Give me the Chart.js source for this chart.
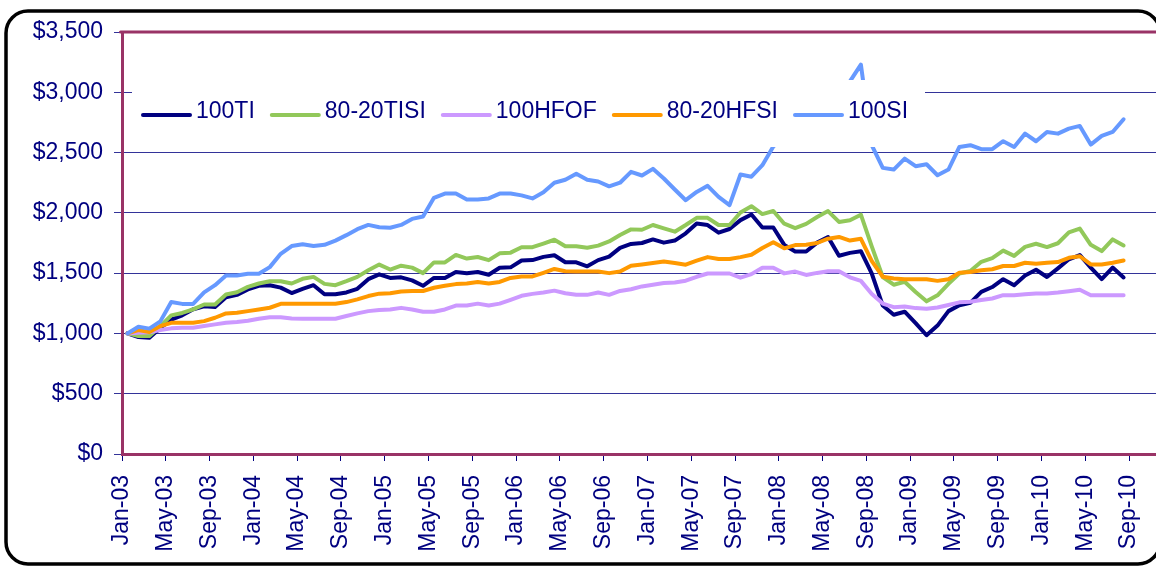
<!DOCTYPE html>
<html>
<head>
<meta charset="utf-8">
<script src="https://cdn.jsdelivr.net/npm/chart.js@4.4.0/dist/chart.umd.min.js"></script>
<style>
html, body { margin: 0; padding: 0; background: #fff; overflow: hidden; }
#wrap { width: 1156px; height: 567px; position: relative; }
</style>
</head>
<body>
<div id="wrap"><canvas id="canvas"></canvas></div>
<script>
// tick labels, one every 4 months (Jan-03 .. Sep-10)
var tickLabels = ['Jan-03','May-03','Sep-03','Jan-04','May-04','Sep-04','Jan-05','May-05','Sep-05',
  'Jan-06','May-06','Sep-06','Jan-07','May-07','Sep-07','Jan-08','May-08','Sep-08',
  'Jan-09','May-09','Sep-09','Jan-10','May-10','Sep-10']

var seriesNames = ['100TI', '80-20TISI', '100HFOF', '80-20HFSI', '100SI']
var seriesColors = ['#000080', '#92c85a', '#cc99ff', '#ff9900', '#6699ff']

// monthly values, Jan-03 .. Aug-10
var ti100 = [1000,970,965,1045,1115,1150,1200,1225,1220,1300,1320,1365,1395,1400,1380,1335,1370,1400,1325,1325,
  1340,1370,1450,1490,1460,1465,1440,1395,1460,1460,1510,1500,1510,1487,1545,1548,1605,1608,1635,1648,
  1590,1590,1557,1608,1637,1710,1742,1750,1780,1753,1770,1830,1912,1899,1836,1866,1940,1986,1879,1879,
  1734,1680,1680,1753,1800,1644,1668,1682,1495,1231,1155,1180,1085,985,1065,1185,1233,1254,1345,1385,
  1450,1400,1480,1528,1468,1540,1615,1650,1546,1450,1546,1464]
var tisi8020 = [1000,978,978,1060,1150,1170,1200,1240,1240,1323,1342,1386,1414,1433,1433,1414,1453,1469,1411,1400,
  1433,1469,1524,1571,1530,1562,1546,1500,1589,1589,1651,1621,1634,1608,1664,1670,1715,1715,1745,1777,
  1723,1723,1710,1728,1763,1817,1863,1860,1899,1871,1844,1899,1959,1959,1899,1899,2003,2055,1990,2015,
  1910,1873,1909,1966,2015,1925,1939,1985,1720,1468,1404,1429,1344,1266,1316,1412,1497,1518,1594,1624,
  1687,1643,1718,1744,1716,1748,1838,1870,1735,1683,1780,1730]
var hfof100 = [1000,1005,1010,1028,1042,1047,1047,1061,1075,1088,1094,1105,1122,1135,1135,1124,1122,1122,1122,1122,
  1144,1166,1185,1195,1199,1212,1199,1180,1180,1199,1231,1231,1247,1231,1247,1279,1312,1328,1339,1355,
  1333,1320,1320,1339,1320,1352,1366,1390,1404,1418,1423,1437,1470,1497,1497,1497,1462,1492,1545,1545,
  1498,1513,1485,1502,1516,1516,1465,1436,1327,1248,1218,1223,1210,1204,1215,1236,1258,1263,1277,1290,
  1317,1317,1325,1331,1331,1339,1350,1363,1317,1317,1317,1317]
var hfsi8020 = [1000,1028,1011,1061,1088,1088,1088,1102,1130,1166,1171,1185,1199,1213,1246,1246,1246,1246,1246,1246,
  1260,1282,1310,1330,1333,1347,1352,1352,1379,1395,1409,1414,1427,1414,1427,1460,1473,1473,1503,1535,
  1516,1513,1513,1513,1500,1513,1562,1572,1584,1597,1584,1570,1603,1633,1617,1617,1633,1652,1709,1756,
  1706,1733,1736,1750,1786,1800,1770,1785,1600,1470,1455,1450,1450,1450,1436,1450,1504,1510,1524,1532,
  1559,1559,1586,1578,1586,1592,1627,1640,1572,1572,1586,1605]
var si100 = [1000,1055,1040,1100,1260,1245,1245,1340,1400,1480,1480,1495,1495,1550,1660,1725,1740,1725,1735,1770,
  1815,1865,1900,1880,1876,1900,1950,1970,2125,2160,2160,2110,2110,2120,2160,2160,2145,2120,2170,2250,
  2275,2325,2275,2260,2220,2250,2340,2310,2365,2285,2194,2105,2174,2224,2133,2064,2318,2300,2395,2550,
  2630,2700,2760,2840,2950,2900,3090,3230,2560,2373,2359,2450,2387,2403,2312,2359,2547,2561,2528,2528,
  2594,2547,2657,2594,2671,2657,2699,2721,2566,2638,2671,2776]

var allSeries = [ti100, tisi8020, hfof100, hfsi8020, si100]

var navy = '#000080'
var maroon = '#993366'
var fontFamily = '"Liberation Sans", Arial, sans-serif'

// month i sits in the middle of its month slot
function toPoints(arr){
    return arr.map(function(v, i){ return {x: i + 0.5, y: v} })
}

var datasets = allSeries.map(function(arr, k){
    return {
        label: seriesNames[k],
        data: toPoints(arr),
        borderColor: seriesColors[k],
        backgroundColor: seriesColors[k],
        borderWidth: 4,
        pointRadius: 0,
        tension: 0,
        fill: false,
        borderJoinStyle: 'round',
        borderCapStyle: 'round',
        order: 5 - k
    }
})

// rounded frame + legend box + top border of the plot
var framePlugin = {
    id: 'frame',
    beforeDraw: function(chart){
        var ctx = chart.ctx
        ctx.save()
        ctx.fillStyle = '#fff'
        ctx.fillRect(0, 0, chart.width, chart.height)
        ctx.strokeStyle = '#000'
        ctx.lineWidth = 3.5
        ctx.beginPath()
        // right side of the frame falls just outside the window
        ctx.roundRect(6, 11, 1154, 553, 22)
        ctx.stroke()
        ctx.restore()
    },
    afterDatasetsDraw: function(chart){
        var ctx = chart.ctx
        var a = chart.chartArea
        ctx.save()
        // legend sits inside the plot on a white box
        ctx.fillStyle = '#fff'
        ctx.fillRect(a.left + 10, 80, 793, 67)
        ctx.font = '23px ' + fontFamily
        ctx.textBaseline = 'middle'
        var x = a.left + 21
        chart.data.datasets.forEach(function(ds){
            ctx.strokeStyle = ds.borderColor
            ctx.lineWidth = 4
            ctx.lineCap = 'round'
            ctx.beginPath()
            ctx.moveTo(x, 115)
            ctx.lineTo(x + 47, 115)
            ctx.stroke()
            ctx.fillStyle = navy
            ctx.fillText(ds.label, x + 53, 112)
            x += 53 + ctx.measureText(ds.label).width + 17
        })
        // top edge of plot
        ctx.strokeStyle = maroon
        ctx.lineWidth = 3
        ctx.beginPath()
        ctx.moveTo(a.left - 1.5, a.top)
        ctx.lineTo(a.right, a.top)
        ctx.stroke()
        ctx.restore()
    }
}

var ctx = document.getElementById('canvas').getContext('2d')
var config = {
    type: 'line',
    data: { datasets: datasets },
    options: {
        responsive: true,
        maintainAspectRatio: false,
        devicePixelRatio: 1,
        animation: false,
        layout: { padding: { top: 32, right: 0, left: 0, bottom: 0 } },
        plugins: { legend: { display: false }, tooltip: { enabled: false } },
        scales: {
            x: {
                type: 'linear',
                min: 0,
                max: 94.46,
                afterBuildTicks: function(scale){
                    scale.ticks = tickLabels.map(function(t, k){ return {value: k * 4} })
                },
                afterFit: function(scale){
                    scale.height = 113
                    // plot runs right up to the window edge
                    scale.paddingLeft = 0
                    scale.paddingRight = 0
                },
                ticks: {
                    autoSkip: false,
                    maxRotation: 90,
                    minRotation: 90,
                    padding: 14,
                    color: navy,
                    font: { family: fontFamily, size: 23 },
                    callback: function(v){ return tickLabels[Math.round(v / 4)] }
                },
                grid: { drawOnChartArea: false, color: navy, tickLength: 7, lineWidth: 1 },
                border: { color: maroon, width: 3 }
            },
            y: {
                min: 0,
                max: 3500,
                afterFit: function(scale){ scale.width = 122 },
                ticks: {
                    stepSize: 500,
                    padding: 11,
                    color: navy,
                    font: { family: fontFamily, size: 23 },
                    callback: function(v){ return '$' + v.toLocaleString('en-US') }
                },
                grid: { color: '#333399', lineWidth: 1, tickLength: 8 },
                border: { color: maroon, width: 3 }
            }
        }
    },
    plugins: [framePlugin]
}

var mychart = new Chart(ctx, config)
</script>
</body>
</html>
